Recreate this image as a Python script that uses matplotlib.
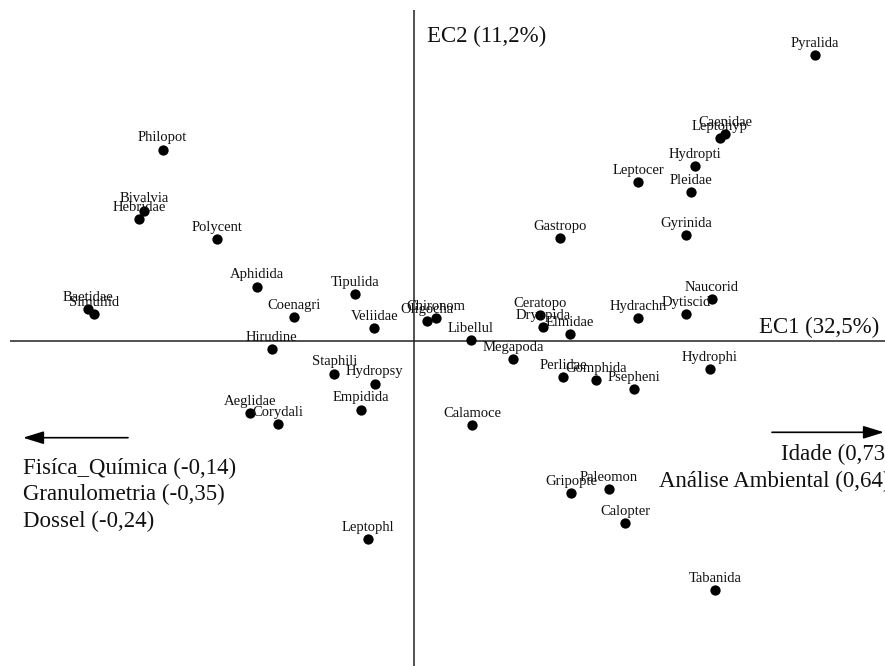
import matplotlib
matplotlib.use("Agg")
import matplotlib.pyplot as plt

plt.rcParams["font.family"] = ["Liberation Serif", "DejaVu Serif"]

# Correspondence analysis scores of the taxa (axis 1, axis 2)
taxa = [
    "Pyralida", "Caenidae", "Leptohyp", "Hydropti", "Leptocer", "Pleidae",
    "Gyrinida", "Gastropo", "Naucorid", "Dytiscid", "Hydrachn", "Ceratopo",
    "Dryopida", "Elmidae", "Chironom", "Oligocha", "Libellul", "Megapoda",
    "Perlidae", "Gomphida", "Psepheni", "Hydrophi", "Calamoce", "Gripopte",
    "Paleomon", "Calopter", "Tabanida", "Leptophl", "Philopot", "Bivalvia",
    "Hebridae", "Polycent", "Aphidida", "Baetidae", "Simuliid", "Tipulida",
    "Coenagri", "Veliidae", "Hirudine", "Staphili", "Hydropsy", "Empidida",
    "Aeglidae", "Corydali",
]
ec1 = [
    2.005, 1.555, 1.530, 1.405, 1.120, 1.385,
    1.360, 0.730, 1.490, 1.360, 1.120, 0.630,
    0.645, 0.780, 0.110, 0.065, 0.285, 0.495,
    0.745, 0.910, 1.100, 1.480, 0.290, 0.785,
    0.975, 1.055, 1.505, -0.230, -1.257, -1.350,
    -1.375, -0.987, -0.787, -1.629, -1.599, -0.295,
    -0.600, -0.199, -0.712, -0.399, -0.197, -0.264,
    -0.820, -0.680,
]
ec2 = [
    1.430, 1.035, 1.015, 0.875, 0.795, 0.745,
    0.530, 0.515, 0.210, 0.135, 0.115, 0.130,
    0.070, 0.035, 0.115, 0.100, 0.005, -0.090,
    -0.180, -0.195, -0.240, -0.140, -0.420, -0.760,
    -0.740, -0.910, -1.245, -0.990, 0.957, 0.652,
    0.610, 0.509, 0.272, 0.159, 0.135, 0.235,
    0.120, 0.065, -0.040, -0.164, -0.214, -0.344,
    -0.360, -0.415,
]

axis_titles = ["EC1 (32,5%)", "EC2 (11,2%)"]
neg_vars = ["Fisíca_Química (-0,14)", "Granulometria (-0,35)", "Dossel (-0,24)"]
pos_vars = ["Idade (0,73)", "Análise Ambiental (0,64)"]

W, H = 885, 666
fig = plt.figure(figsize=(W / 100, H / 100), dpi=100)
ax = fig.add_axes([0, 0, 1, 1])
ax.set_xlim(-2.07, 2.355)
ax.set_ylim(-1.625, 1.705)
ax.axis("off")


def fx(px):
    return px / W


def fy(py):
    return 1 - py / H


# Axes through the origin
ax.plot([-2.02, 2.355], [0, 0], color="#222222", lw=1.1, solid_capstyle="butt")
ax.plot([0, 0], [1.655, -1.625], color="#222222", lw=1.1, solid_capstyle="butt")

# Taxa
ax.scatter(ec1, ec2, s=55, color="black", zorder=3, linewidths=0)
for name, x, y in zip(taxa, ec1, ec2):
    ax.annotate(name, (x, y), xytext=(0, 6), textcoords="offset points",
                ha="center", va="baseline", fontsize=10.5, color="#111111")

big = 16.5
fig.text(fx(427), fy(42), axis_titles[1], ha="left", va="baseline",
         fontsize=big, color="#111111")
fig.text(fx(879), fy(333), axis_titles[0], ha="right", va="baseline",
         fontsize=big, color="#111111")

# Environmental gradients along axis 1
arrow_kw = dict(arrowstyle="-|>,head_length=0.9,head_width=0.28", lw=1.2,
                color="black", shrinkA=0, shrinkB=0, mutation_scale=14)
ax.annotate("", xy=(fx(23), fy(437.7)), xytext=(fx(128), fy(437.7)),
            xycoords="figure fraction", textcoords="figure fraction",
            arrowprops=arrow_kw)
ax.annotate("", xy=(fx(884), fy(432.3)), xytext=(fx(772), fy(432.3)),
            xycoords="figure fraction", textcoords="figure fraction",
            arrowprops=arrow_kw)

for i, t in enumerate(neg_vars):
    fig.text(fx(23), fy(474 + 26.4 * i), t, ha="left", va="baseline",
             fontsize=big, color="#111111")
fig.text(fx(781), fy(460), pos_vars[0], ha="left", va="baseline",
         fontsize=big, color="#111111")
fig.text(fx(659), fy(487.3), pos_vars[1], ha="left", va="baseline",
         fontsize=big, color="#111111")

fig.savefig("out.png", dpi=100, facecolor="white")
